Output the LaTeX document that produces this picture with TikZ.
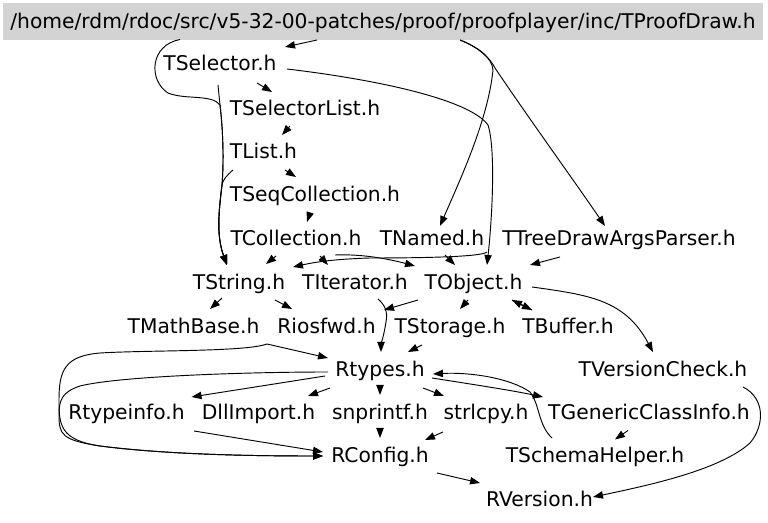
\documentclass[tikz,border=0pt]{standalone}
\usepackage{fontspec}
\setmainfont{DejaVu Sans}
\usetikzlibrary{arrows.meta,calc}
\definecolor{rootgray}{RGB}{211,211,211}
\begin{document}
\begin{tikzpicture}[x=0.75pt,y=-0.75pt,
  lbl/.style={inner sep=0pt, font=\fontsize{15.2pt}{18pt}\selectfont, text height=10.9pt, text depth=0pt, anchor=center},
  rootbox/.style={lbl, fill=rootgray, minimum width=570pt, minimum height=27.75pt},
  e/.style={line width=0.7pt, -{Triangle[length=7.5pt,width=5.5pt]}}]
\useasboundingbox (0,0) rectangle (768,523);
% nodes
\node[rootbox] (root) at (383,21.5) {/home/rdm/rdoc/src/v5-32-00-patches/proof/proofplayer/inc/TProofDraw.h};
\node[lbl] (TSelector) at (220,63) {TSelector.h};
\node[lbl] (TSelectorList) at (305,108) {TSelectorList.h};
\node[lbl] (TList) at (263.5,151) {TList.h};
\node[lbl] (TSeqCollection) at (315,194.5) {TSeqCollection.h};
\node[lbl] (TCollection) at (296,238) {TCollection.h};
\node[lbl] (TNamed) at (432,238) {TNamed.h};
\node[lbl] (TTree) at (619,238) {TTreeDrawArgsParser.h};
\node[lbl] (TString) at (239,282) {TString.h};
\node[lbl] (TIterator) at (355,282) {TIterator.h};
\node[lbl] (TObject) at (473.5,282) {TObject.h};
\node[lbl] (TMathBase) at (193.5,326) {TMathBase.h};
\node[lbl] (Riosfwd) at (326.5,326) {Riosfwd.h};
\node[lbl] (TStorage) at (450,326) {TStorage.h};
\node[lbl] (TBuffer) at (568,326) {TBuffer.h};
\node[lbl] (Rtypes) at (380,369) {Rtypes.h};
\node[lbl] (TVersionCheck) at (663,369) {TVersionCheck.h};
\node[lbl] (Rtypeinfo) at (126.5,412.5) {Rtypeinfo.h};
\node[lbl] (DllImport) at (258.5,412.5) {DllImport.h};
\node[lbl] (snprintf) at (380,412.5) {snprintf.h};
\node[lbl] (strlcpy) at (486,412.5) {strlcpy.h};
\node[lbl] (TGCI) at (649,412.5) {TGenericClassInfo.h};
\node[lbl] (RConfig) at (380,455.5) {RConfig.h};
\node[lbl] (TSchemaHelper) at (595,455.5) {TSchemaHelper.h};
\node[lbl] (RVersion) at (539.5,499) {RVersion.h};
% edges
\draw[e] ($(root)+(-66,18.5)$) -- ($(TSelector)+(65,-16)$);
\draw[e] ($(root)+(-203,18)$) .. controls (150,45) and (148,80) .. (168,93)
   .. controls (185,100) and (212,94) .. (220,105)
   .. controls (223,130) and (224,160) .. (222,185)
   .. controls (219,210) and (216,235) .. ($(TString)+(-12,-17)$);
\draw[e] ($(TSelector)+(-2,22)$) .. controls (219,95) and (219.5,100) .. (220,105)
   .. controls (223,130) and (224,160) .. (222,185)
   .. controls (219,210) and (216,235) .. ($(TString)+(-12,-17)$);
\draw[e] ($(TList)+(-30.5,19)$) .. controls (226,176) and (223,180) .. (222,185)
   .. controls (219,210) and (216,235) .. ($(TString)+(-12,-17)$);
\draw[e] ($(TSelector)+(67,6)$) .. controls (380,80) and (470,100) .. (488,125)
   .. controls (496,150) and (492,220) .. ($(TObject)+(13.5,-17)$);
\draw[e] ($(root)+(77,18.5)$) .. controls (480,48) and (492,58) .. (493,70)
   .. controls (488,120) and (460,180) .. ($(TNamed)+(8,-12)$);
\draw[e] ($(root)+(77,18.5)$) .. controls (478,47) and (490,58) .. (495,68)
   .. controls (530,120) and (570,175) .. ($(TTree)+(-14,-12)$);
\draw[e] ($(TSelector)+(37,20)$) -- ($(TSelectorList)+(-33,-16)$);
\draw[e] ($(TSelectorList)+(-15,18)$) -- ($(TList)+(18.5,-16)$);
\draw[e] ($(TList)+(21.5,19)$) -- ($(TSeqCollection)+(-19,-17.5)$);
\draw[e] ($(TSeqCollection)+(-5,18.5)$) -- ($(TCollection)+(11,-16)$);
\draw[e] ($(TCollection)+(-20,18)$) -- ($(TString)+(27,-18)$);
\draw[e] ($(TCollection)+(24,18)$) -- ($(TIterator)+(-27,-17)$);
\draw[e] ($(TCollection)+(39,17)$) .. controls (360,254) and (385,258) .. ($(TObject)+(-58.5,-16)$);
\draw[e] ($(TNamed)+(55,14)$) .. controls (482,257) and (420,258) .. (370,258)
   .. controls (340,259) and (320,261) .. ($(TString)+(54,-15)$);
\draw[e] ($(TNamed)+(13,17)$) -- ($(TObject)+(-18.5,-17)$);
\draw[e] ($(TTree)+(-59,19)$) -- ($(TObject)+(56.5,-17)$);
\draw[e] ($(TString)+(-17,16)$) -- ($(TMathBase)+(16.5,-17)$);
\draw[e] ($(TString)+(36,18)$) -- ($(Riosfwd)+(-34.5,-17)$);
\draw[e] ($(TIterator)+(23,17)$) .. controls (385,305) and (388,312) .. (386,322)
   .. controls (384,335) and (381,345) .. ($(Rtypes)+(1,-17)$);
\draw[e] ($(TObject)+(-55.5,18)$) -- ($(Riosfwd)+(57.5,-16)$);
\draw[e] ($(TObject)+(-5.5,18)$) -- ($(TStorage)+(10,-17)$);
\draw[e] ($(TObject)+(38.5,18)$) -- ($(TBuffer)+(-36,-16)$);
\draw[e] ($(TBuffer)+(-36,-16)$) -- ($(TObject)+(38.5,18)$);
\draw[e] ($(TObject)+(58.5,5)$) .. controls (590,295) and (625,300) .. ($(TVersionCheck)+(-10,-17)$);
\draw[e] ($(TStorage)+(-28,19)$) -- ($(Rtypes)+(28,-17)$);
\draw[e] ($(TMathBase)+(73.5,18)$) -- ($(Rtypes)+(-52,-11)$);
\draw[e] ($(TMathBase)+(73.5,18)$) .. controls (245,352) and (150,350) .. (100,353)
   .. controls (65,356) and (59,370) .. (59,400)
   .. controls (59,425) and (60,440) .. (100,446)
   .. controls (170,455) and (260,456) .. ($(RConfig)+(-57,0.5)$);
\draw[e] ($(Rtypes)+(-52,3)$) .. controls (250,372) and (120,376) .. (80,386)
   .. controls (62,392) and (59,400) .. (59,415)
   .. controls (59,435) and (62,440) .. (100,446)
   .. controls (170,455) and (260,456) .. ($(RConfig)+(-57,0.5)$);
\draw[e] ($(Rtypes)+(-55,7)$) -- ($(Rtypeinfo)+(65,-15.5)$);
\draw[e] ($(Rtypes)+(-50,19)$) -- ($(DllImport)+(49.5,-16.5)$);
\draw[e] ($(Rtypes)+(0,18)$) -- ($(snprintf)+(0,-17.5)$);
\draw[e] ($(Rtypes)+(43,19)$) -- ($(strlcpy)+(-42,-16.5)$);
\draw[e] ($(Rtypes)+(52,9)$) .. controls (470,384) and (510,390) .. ($(TGCI)+(-106,-15.5)$);
\draw[e] ($(TSchemaHelper)+(-43,-17.5)$) .. controls (538,425) and (540,405) .. (530,392)
   .. controls (510,378) and (470,372) .. ($(Rtypes)+(53,5)$);
\draw[e] ($(TGCI)+(-21,18)$) -- ($(TSchemaHelper)+(20,-16)$);
\draw[e] ($(Rtypeinfo)+(67.5,18.5)$) -- ($(RConfig)+(-57,-3.5)$);
\draw[e] ($(snprintf)+(0,17.5)$) -- ($(RConfig)+(0,-17.5)$);
\draw[e] ($(strlcpy)+(-43,19.5)$) -- ($(RConfig)+(45,-15.5)$);
\draw[e] ($(RConfig)+(57,17.5)$) -- ($(RVersion)+(-59.5,-16)$);
\draw[e] ($(TVersionCheck)+(80,18)$) .. controls (765,398) and (765,425) .. (750,443)
   .. controls (720,470) and (650,485) .. ($(RVersion)+(53.5,-2)$);
\end{tikzpicture}
\end{document}
